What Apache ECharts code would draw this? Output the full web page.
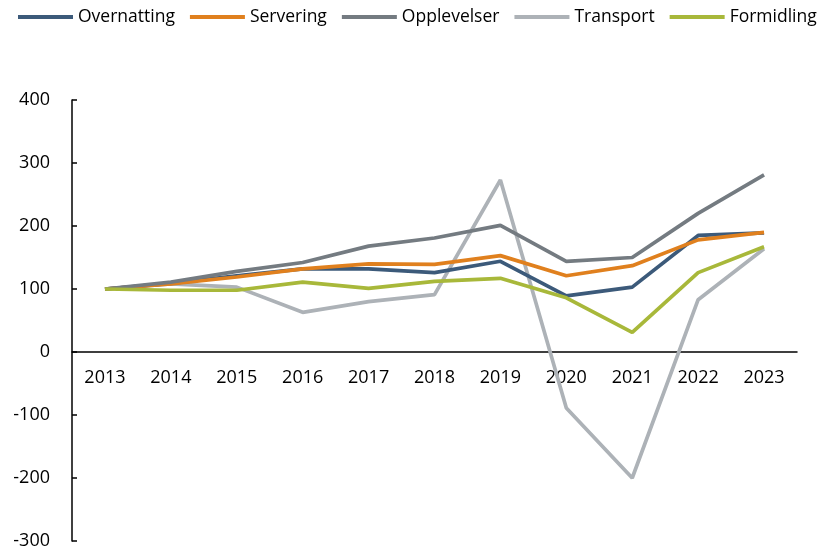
<!DOCTYPE html>
<html>
<head>
<meta charset="utf-8">
<script src="https://cdn.jsdelivr.net/npm/echarts@6/dist/echarts.min.js"></script>
<style>
  html, body { margin: 0; padding: 0; background: #fff; }
  #chart { width: 823px; height: 548px; }
</style>
</head>
<body>
<div id="chart"></div>
<script>
// år og serier
var years = ['2013', '2014', '2015', '2016', '2017', '2018', '2019', '2020', '2021', '2022', '2023'];
var overnatting = [100, 109, 121, 132, 132, 126, 144, 89, 103, 185, 189];
var servering   = [100, 108, 119, 132, 140, 139, 153, 121, 137, 178, 190];
var opplevelser = [100, 111, 128, 142, 168, 181, 201, 144, 150, 220, 281];
var transport   = [100, 108, 103, 63, 80, 91, 273, -89, -200, 83, 164];
var formidling  = [100, 98, 98, 111, 101, 112, 117, 86, 31, 126, 167];

var names = ['Overnatting', 'Servering', 'Opplevelser', 'Transport', 'Formidling'];
var colors = ['#3c5a7a', '#e0801e', '#747b81', '#adb2b7', '#a8b83a'];
var values = [overnatting, servering, opplevelser, transport, formidling];

var font = 'Open Sans';
var yMin = -300, yMax = 400;
var gridTop = 100, gridBottom = 7;
var gridH = 548 - gridTop - gridBottom;
// x-aksen ligger på 0-linja
var zeroOffset = gridH * (0 - yMin) / (yMax - yMin);

var chart = echarts.init(document.getElementById('chart'));
var series = names.map(function (n, i) {
    return {
        name: n,
        type: 'line',
        data: values[i],
        symbol: 'none',
        lineStyle: { width: 3.7, color: colors[i] },
        itemStyle: { color: colors[i] },
        z: i === 3 ? 1 : 2
    };
});

chart.setOption({
    animation: false,
    color: colors,
    legend: {
        top: 8,
        left: 18,
        width: 820,
        padding: 0,
        itemGap: 15,
        itemWidth: 55,
        itemHeight: 4,
        icon: 'rect',
        textStyle: { fontFamily: font, fontSize: 17.5, color: '#000' },
        data: names
    },
    grid: { left: 72, right: 26, top: gridTop, bottom: gridBottom, containLabel: false, outerBoundsMode: 'none' },
    xAxis: {
        type: 'category',
        data: years,
        boundaryGap: true,
        offset: -zeroOffset,
        axisLine: { onZero: false, lineStyle: { color: '#000', width: 1.5 } },
        axisTick: { show: false },
        axisLabel: { fontFamily: font, fontSize: 18, color: '#000', margin: 17 }
    },
    yAxis: {
        type: 'value',
        min: yMin,
        max: yMax,
        interval: 100,
        splitLine: { show: false },
        axisLine: { show: true, lineStyle: { color: '#000', width: 1.5 } },
        axisTick: { show: true, inside: true, length: 5, lineStyle: { color: '#000', width: 1.5 } },
        axisLabel: { fontFamily: font, fontSize: 18, color: '#000', margin: 22 }
    },
    series: series
});
</script>
</body>
</html>
